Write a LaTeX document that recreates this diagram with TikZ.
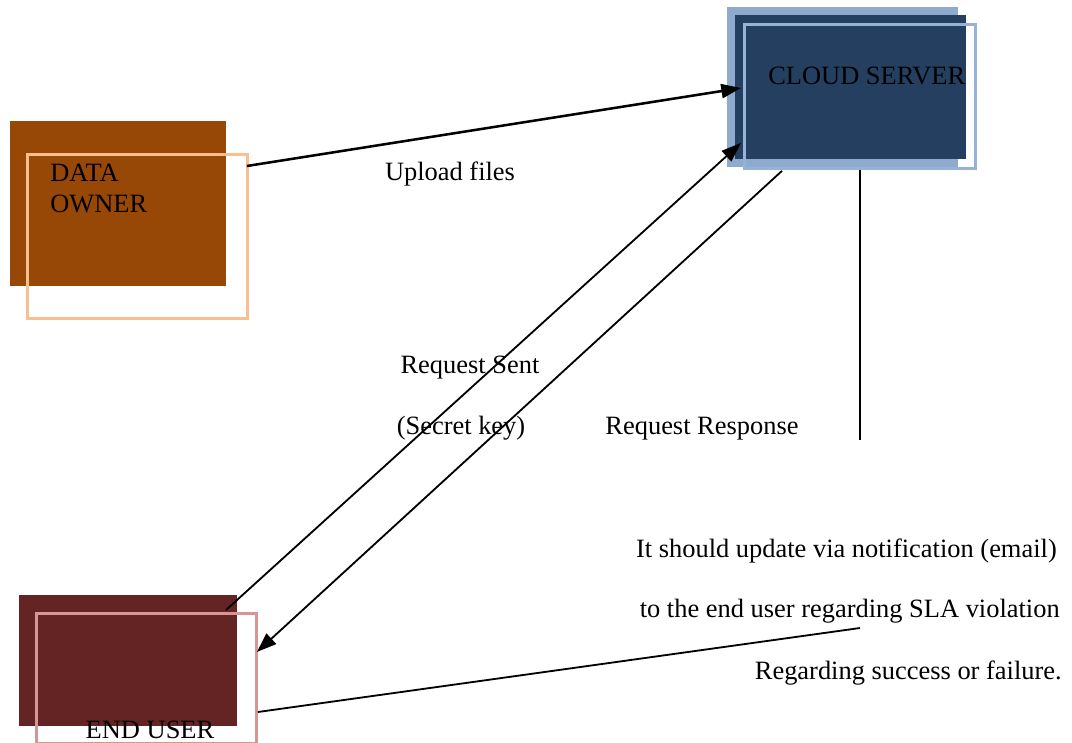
\documentclass[tikz,border=0pt]{standalone}
\usepackage{fontspec}
\setmainfont{Liberation Serif}
\usetikzlibrary{arrows.meta,calc}

\definecolor{ownerfill}{HTML}{984806}
\definecolor{ownerline}{HTML}{FABF8F}
\definecolor{cloudfill}{HTML}{243F60}
\definecolor{cloudback}{HTML}{8EAACC}
\definecolor{cloudline}{HTML}{95B3D7}
\definecolor{userfill}{HTML}{632423}
\definecolor{userline}{HTML}{D99594}

\begin{document}
\begin{tikzpicture}[x=0.025cm,y=-0.025cm,
		every node/.style={font=\fontsize{18.8}{21.5}\selectfont},
		slab/.style={rectangle,inner sep=0pt,anchor=north west},
		frame/.style={slab,draw,line width=2pt},
		lbl/.style={inner sep=0pt},
		flow/.style={-{Triangle[length=14pt,width=10pt]},line width=1.3pt}]
		\useasboundingbox (0,0) rectangle (1072,743);
		% data owner
		\node[slab,fill=ownerfill,minimum width=5.4cm,minimum height=4.125cm] (DOf) at (10,121) {};
		\node[frame,draw=ownerline,minimum width=5.5cm,minimum height=4.1cm] (DO) at (26,153) {};
		\node[lbl,anchor=base west,align=left] (DOt) at (50,212) {DATA\\OWNER};
		% cloud server
		\node[slab,fill=cloudback,minimum width=5.775cm,minimum height=4cm] (CSb) at (727,7) {};
		\node[slab,fill=cloudfill,minimum width=5.775cm,minimum height=3.6cm] (CSf) at (735,15) {};
		\node[frame,draw=cloudline,minimum width=5.775cm,minimum height=3.6cm] (CS) at (743,23) {};
		\node[lbl,anchor=base west] (CSt) at (768,84) {CLOUD SERVER};
		% end user
		\node[slab,fill=userfill,minimum width=5.45cm,minimum height=3.275cm] (EUf) at (19,595) {};
		\node[frame,draw=userline,minimum width=5.5cm,minimum height=3.25cm] (EU) at (35,612) {};
		\node[lbl,anchor=base] (EUt) at (150,738) {END USER};
		% labels
		\node[lbl,anchor=base] (UF) at (450,180) {Upload files};
		\node[lbl,anchor=base] (RS) at (470,373) {Request Sent};
		\node[lbl,anchor=base] (SK) at (461,434) {(Secret key)};
		\node[lbl,anchor=base] (RR) at (702,434) {Request Response};
		\node[lbl,anchor=base east] (N1) at (1057,557) {It should update via notification (email)};
		\node[lbl,anchor=base east] (N2) at (1060,617) {to the end user regarding SLA violation};
		\node[lbl,anchor=base east] (N3) at (1062,679) {Regarding success or failure.};
		% connectors
		\coordinate (VL) at (860,440);
		\coordinate (NL) at (860,628);
		\draw[flow,line width=1.8pt] ($(DO.north east)+(-2,13)$) -- ($(CS.north west)+(-2,65)$);
		\draw[flow] ($(EU.north west)+(191,-2)$) -- ($(CS.north west)+(-2,120)$);
		\draw[flow] ($(CS.south west)+(39,1)$) -- ($(EU.north east)+(-1,40)$);
		\draw[line width=1.3pt] ($(CS.south west)+(117,0)$) -- (VL);
		\draw[line width=1.3pt] ($(EU.north east)+(0,100)$) -- (NL);
	\end{tikzpicture}
\end{document}
